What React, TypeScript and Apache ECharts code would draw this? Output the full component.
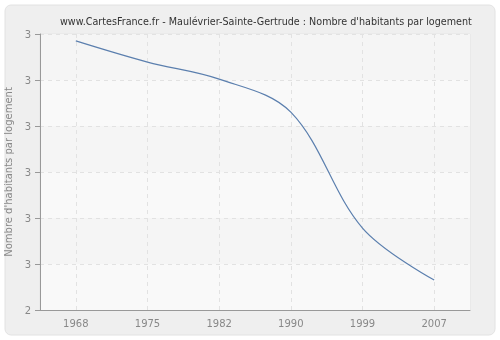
import React, { useEffect, useRef } from "react";
import * as echarts from "echarts";

const years = ["1968", "1975", "1982", "1990", "1999", "2007"];
const values = [2.985, 2.939, 2.902, 2.83, 2.578, 2.465];
const yMin = 2.4;
const yMax = 3.0;
const yStep = 0.1;
const title = "www.CartesFrance.fr - Maulévrier-Sainte-Gertrude : Nombre d'habitants par logement";
const yName = "Nombre d'habitants par logement";

export default function App() {
  const ref = useRef<HTMLDivElement>(null);
  useEffect(() => {
    const chart = echarts.init(ref.current!, null, { renderer: "svg" });
    const font = "DejaVu Sans, Verdana, sans-serif";
    chart.setOption({
      animation: false,
      backgroundColor: "transparent",
      graphic: [
        {
          type: "rect",
          shape: { x: 5, y: 5, width: 490, height: 330, r: 6 },
          style: { fill: "#efefef", stroke: "#e2e2e2", lineWidth: 1 },
          z: -10,
          silent: true,
        },
      ],
      title: {
        text: title,
        left: 55,
        top: 11,
        textStyle: { fontFamily: font, fontSize: 9.6, fontWeight: "normal", color: "#333" },
      },
      grid: {
        left: 40,
        right: 30,
        top: 34,
        bottom: 30,
        outerBoundsMode: "none",
        containLabel: false,
        show: true,
        backgroundColor: "#f7f7f7",
        borderColor: "#e4e4e4",
        borderWidth: 1,
      },
      xAxis: {
        type: "category",
        data: years,
        boundaryGap: true,
        axisLine: { lineStyle: { color: "#999" } },
        axisTick: { alignWithLabel: true, length: 5, lineStyle: { color: "#999" } },
        axisLabel: { color: "#888", fontFamily: font, fontSize: 10, margin: 8 },
        splitLine: { show: false },
      },
      yAxis: {
        type: "value",
        min: yMin,
        max: yMax,
        interval: yStep,
        name: yName,
        nameLocation: "middle",
        nameGap: 20,
        nameTextStyle: { color: "#888", fontFamily: font, fontSize: 10 },
        axisLine: { show: true, lineStyle: { color: "#999" } },
        axisTick: { show: true, length: 5, lineStyle: { color: "#999" } },
        axisLabel: {
          color: "#888",
          fontFamily: font,
          fontSize: 10,
          margin: 9,
          formatter: (v: number) => String(Math.round(v + 1e-9)),
        },
        splitLine: { show: true, lineStyle: { color: "#e2e2e2", type: [4, 4] } },
        splitArea: { show: true, areaStyle: { color: ["#f9f9f9", "#f5f5f5"] } },
      },
      series: [
        {
          type: "line",
          data: values,
          smooth: 0.35,
          symbol: "none",
          lineStyle: { color: "#5b7fae", width: 1.2 },
          markLine: {
            silent: true,
            symbol: "none",
            label: { show: false },
            lineStyle: { color: "#e2e2e2", type: [4, 4], width: 1 },
            data: years.map((y) => ({ xAxis: y })),
            z: 1,
          },
        },
      ],
    });
    return () => chart.dispose();
  }, []);
  return <div ref={ref} style={{ position: "fixed", left: 0, top: 0, width: 500, height: 340 }} />;
}
